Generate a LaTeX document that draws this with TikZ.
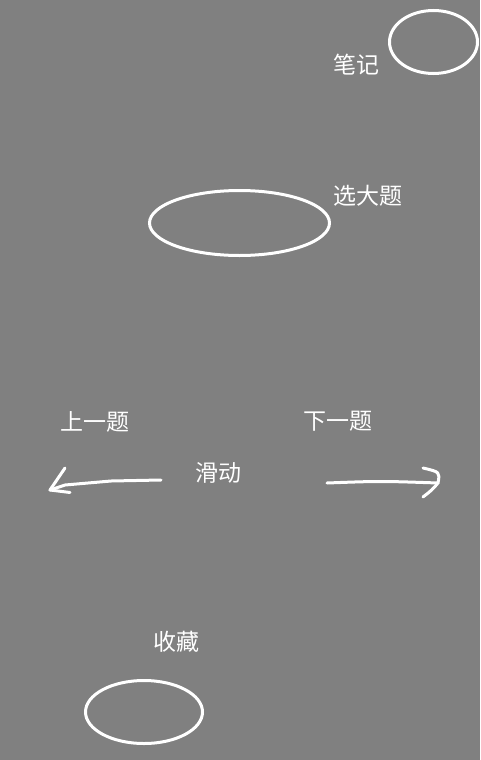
\documentclass[tikz,border=0pt]{standalone}
\usepackage{fontspec}
\newfontfamily\cjk{Noto Sans CJK SC}
\usepackage{tikz}
\usetikzlibrary{shapes.geometric, positioning}
\definecolor{bggray}{HTML}{808080}
\definecolor{chalk}{HTML}{FFFFFF}

\tikzset{
    hotspot/.style={ellipse, draw=chalk, line width=3pt, inner sep=0pt},
    hint/.style={text=chalk, inner sep=0pt, font=\cjk\fontsize{23}{26}\selectfont},
    swipe/.style={draw=chalk, line width=3pt, line cap=round, line join=round}
}

\begin{document}
\begin{tikzpicture}[x=1pt, y=-1pt]
    % page
    \fill[bggray] (0,0) rectangle (480,760);
    \useasboundingbox (0,0) rectangle (480,760);

    % tap areas
    \node[hotspot, minimum width=88pt, minimum height=63pt] (noteArea) at (433.5,42) {};
    \node[hotspot, minimum width=180pt, minimum height=65pt] (pickArea) at (239.5,223) {};
    \node[hotspot, minimum width=117pt, minimum height=63pt] (starArea) at (144,712) {};

    % labels
    \node[hint] (noteLabel) at (356,65) {笔记};
    \node[hint] (pickLabel) at (368,196) {选大题};
    \node[hint] (prevLabel) at (95,422) {上一题};
    \node[hint] (nextLabel) at (338,421) {下一题};
    \node[hint] (swipeLabel) at (218,473) {滑动};
    \node[hint] (starLabel) at (176,642) {收藏};

    % swipe arrows
    \coordinate (prevStart) at (161,480);
    \coordinate (prevTip) at (50,490);
    \coordinate (nextStart) at (327,483);
    \coordinate (nextTip) at (438,483);

    \draw[swipe] (prevStart) -- (111,481) -- (65,485) -- (prevTip);
    \draw[swipe] (65,468) -- (prevTip) -- (70,492.5);

    \draw[swipe] (nextStart) .. controls (380,481) .. (nextTip);
    \draw[swipe] (423,468) .. controls (440,472) .. (nextTip)
        .. controls (432,490) .. (423,497);
\end{tikzpicture}
\end{document}
